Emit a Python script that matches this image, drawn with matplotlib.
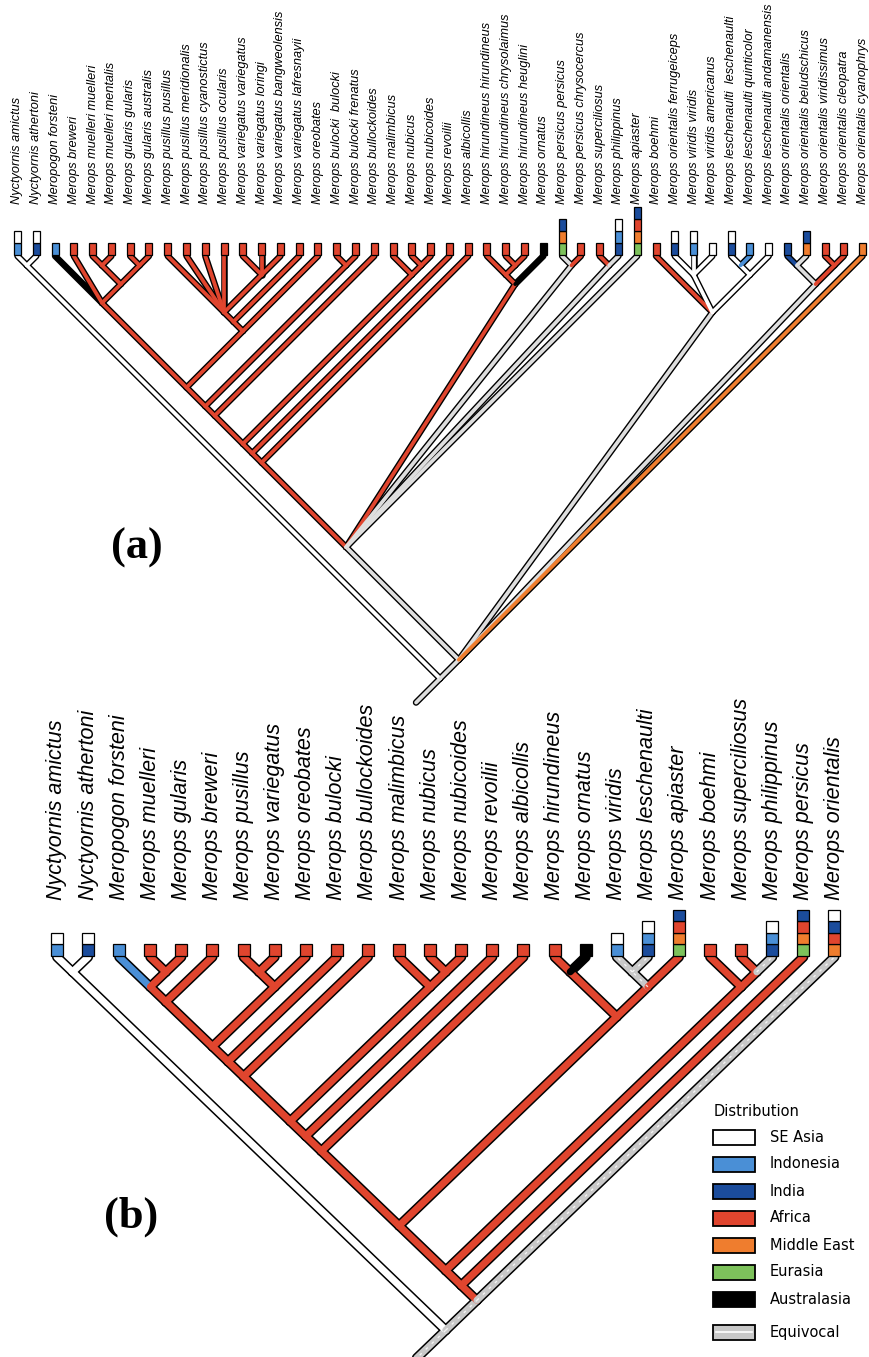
import matplotlib
matplotlib.use("Agg")
import matplotlib.pyplot as plt
from matplotlib.patches import Rectangle

# ---------------- data ----------------
region_codes = ["W", "I", "N", "A", "M", "E", "K", "Q"]
region_names = ["SE Asia", "Indonesia", "India", "Africa", "Middle East",
                "Eurasia", "Australasia", "Equivocal"]
region_colors = ["#ffffff", "#4a8fd6", "#1b4c9c", "#e0452e", "#ef7d2e",
                 "#7dc25b", "#000000", "#c8c8c8"]

names_a = [
    "Nyctyornis amictus", "Nyctyornis athertoni", "Meropogon forsteni", "Merops breweri",
    "Merops muelleri muelleri", "Merops muelleri mentalis", "Merops gularis gularis",
    "Merops gularis australis", "Merops pusillus pusillus", "Merops pusillus meridionalis",
    "Merops pusillus cyanostictus", "Merops pusillus ocularis", "Merops variegatus variegatus",
    "Merops variegatus loringi", "Merops variegatus bangweolensis", "Merops variegatus lafresnayii",
    "Merops oreobates", "Merops bulocki  bulocki", "Merops bulocki frenatus", "Merops bullockoides",
    "Merops malimbicus", "Merops nubicus", "Merops nubicoides", "Merops revoilii",
    "Merops albicollis", "Merops hirundineus hirundineus", "Merops hirundineus chrysolaimus",
    "Merops hirundineus heuglini", "Merops ornatus", "Merops persicus persicus",
    "Merops persicus chrysocercus", "Merops superciliosus", "Merops philippinus",
    "Merops apiaster", "Merops boehmi", "Merops orientalis ferrugeiceps",
    "Merops viridis viridis", "Merops viridis americanus", "Merops leschenaulti  leschenaulti",
    "Merops leschenaulti quinticolor", "Merops leschenaulti andamanensis",
    "Merops orientalis orientalis", "Merops orientalis beludschicus",
    "Merops orientalis viridissimus", "Merops orientalis cleopatra", "Merops orientalis cyanophrys",
]
# tip states, listed top to bottom
boxes_a = ["WI", "WN", "I"] + ["A"] * 25 + ["K", "NME", "A", "A", "WIN", "NAME", "A",
           "WN", "WI", "W", "WN", "I", "W", "N", "NM", "A", "A", "M"]

# topology (tip number + branch state letter)
a_x1 = "(3K,4A,((5A,6A)A,(7A,8A)A)A)A"
a_x3 = "(((9A,10A,11A,12A,(13A,14A,15A)A)A,16A)A,17A)A"
a_red = f"(((((({a_x1},{a_x3})A,(18A,19A)A)A,20A)A,(21A,(22A,23A)A)A)A,24A)A,25A)A"
a_hiru = "((26A,(27A,28A)A)A,29K)A"
a_core = f"({a_red},{a_hiru},(30Q,31A)Q,(32A,33Q)Q,34Q)Q"
a_east = "(35A,(36W,37W,38W)W,((39W,40I)W,41W)W)Q"
a_orient = "((42N,43Q)Q,(44A,45A)A)Q"
tree_a = f"((1W,2W)W,({a_core},{a_east},{a_orient},46M)Q)Q"

names_b = [
    "Nyctyornis amictus", "Nyctyornis athertoni", "Meropogon forsteni", "Merops muelleri",
    "Merops gularis", "Merops breweri", "Merops pusillus", "Merops variegatus",
    "Merops oreobates", "Merops bulocki", "Merops bullockoides", "Merops malimbicus",
    "Merops nubicus", "Merops nubicoides", "Merops revoilii", "Merops albicollis",
    "Merops hirundineus", "Merops ornatus", "Merops viridis", "Merops leschenaulti",
    "Merops apiaster", "Merops boehmi", "Merops superciliosus", "Merops philippinus",
    "Merops persicus", "Merops orientalis",
]
boxes_b = ["WI", "WN", "I"] + ["A"] * 14 + ["K", "WI", "WIN", "NAME", "A", "A",
           "WIN", "NAME", "WNAM"]

b_3_6 = "((3I,(4A,5A)A)A,6A)A"
b_7_9 = "((7A,8A)A,9A)A"
b_3_11 = f"((({b_3_6},{b_7_9})A,10A)A,11A)A"
b_3_16 = f"((({b_3_11},(12A,(13A,14A)A)A)A,15A)A,16A)A"
b_17_21 = "((17A,18K)A,((19Q,20Q)Q,21A)A)A"
b_22_24 = "(22A,(23A,24Q)A)A"
tree_b = f"((1W,2W)W,(((({b_3_16},{b_17_21})A,{b_22_24})A,25A)A,26Q)Q)Q"

COL = dict(zip(region_codes, region_colors))


# ---------------- tree helpers ----------------
def parse(s):
    s = s.replace(" ", "")
    pos = 0

    def node():
        nonlocal pos
        if s[pos] == "(":
            pos += 1
            kids = [node()]
            while s[pos] == ",":
                pos += 1
                kids.append(node())
            assert s[pos] == ")"
            pos += 1
            c = s[pos]
            pos += 1
            return {"kids": kids, "c": c}
        j = pos
        while s[pos].isdigit():
            pos += 1
        idx = int(s[j:pos]) - 1
        c = s[pos]
        pos += 1
        return {"leaf": idx, "c": c}

    return node()


def layout(n, xs, y0, r):
    if "leaf" in n:
        n["x"] = n["lo"] = n["hi"] = xs[n["leaf"]]
        n["y"] = y0
        return
    for k in n["kids"]:
        layout(k, xs, y0, r)
    n["lo"] = min(k["lo"] for k in n["kids"])
    n["hi"] = max(k["hi"] for k in n["kids"])
    n["x"] = (n["lo"] + n["hi"]) / 2
    n["y"] = y0 + r * (n["hi"] - n["lo"]) / 2


def collect(n, segs):
    for k in n.get("kids", []):
        segs.append(((n["x"], n["y"]), (k["x"], k["y"]), k["c"]))
        collect(k, segs)


fig = plt.figure(figsize=(8.7, 13.57), dpi=100)
ax = fig.add_axes([0, 0, 1, 1])
ax.set_xlim(0, 870)
ax.set_ylim(1357, 0)
ax.axis("off")


def draw_panel(tree, names, boxes, x0, dx, tip_y, r, lw_out, lw_in, stub,
               box_w, cell_h, label_y, fsize, fam, qcol, hatch):
    root = parse(tree)
    xs = [x0 + dx * i for i in range(len(names))]
    layout(root, xs, tip_y, r)
    segs = []
    collect(root, segs)
    rx, ry = root["x"], root["y"]
    segs.insert(0, ((rx, ry), (rx - stub, ry + stub * r), root["c"]))
    for p, q, c in segs:
        ax.plot([p[0], q[0]], [p[1], q[1]], color="black", lw=lw_out,
                solid_capstyle="round", zorder=2)
    for p, q, c in segs:
        col = qcol if c == "Q" else COL[c]
        ax.plot([p[0], q[0]], [p[1], q[1]], color=col, lw=lw_in,
                solid_capstyle="round", zorder=3)
        if c == "Q" and hatch:
            ax.plot([p[0], q[0]], [p[1], q[1]], color="white", lw=1.0,
                    dashes=(2, 4), zorder=4, alpha=0.8)
    for i, s in enumerate(boxes):
        for k, ch in enumerate(reversed(s)):
            ax.add_patch(Rectangle((xs[i] - box_w / 2, tip_y - 1.5 - cell_h * (k + 1)),
                                   box_w, cell_h, facecolor=COL[ch], edgecolor="black",
                                   lw=0.9, zorder=5))
    for i, nm in enumerate(names):
        ax.text(xs[i], label_y, nm, rotation=90, ha="center", va="bottom",
                fontsize=fsize, style="italic", family=fam, zorder=6)


draw_panel(tree_a, names_a, boxes_a, x0=17.5, dx=18.78, tip_y=256, r=1.0,
           lw_out=4.7, lw_in=2.7, stub=24, box_w=7, cell_h=12, label_y=204,
           fsize=9.2, fam=["Liberation Sans Narrow", "Liberation Sans", "DejaVu Sans"],
           qcol="#dedede", hatch=False)

draw_panel(tree_b, names_b, boxes_b, x0=57, dx=31.1, tip_y=957, r=0.96,
           lw_out=7.2, lw_in=5.0, stub=40, box_w=12, cell_h=11.5, label_y=900,
           fsize=15.5, fam=["Liberation Sans", "DejaVu Sans"],
           qcol="#c8c8c8", hatch=True)

ax.text(137, 548, "(a)", fontsize=32, fontweight="bold", family="Liberation Serif",
        ha="center", va="center")
ax.text(131, 1217, "(b)", fontsize=32, fontweight="bold", family="Liberation Serif",
        ha="center", va="center")

# legend
ax.text(714, 1112, "Distribution", fontsize=10.5, ha="left", va="center",
        family="DejaVu Sans")
for j, (code, lab) in enumerate(zip(region_codes, region_names)):
    y = 1137 + 27 * j + (6 if code == "Q" else 0)
    ax.add_patch(Rectangle((713, y - 7.5), 42, 15, facecolor=COL[code],
                           edgecolor="black", lw=1.3, zorder=5))
    if code == "Q":
        ax.plot([716, 752], [y, y], color="white", lw=1.2, zorder=6)
    ax.text(770, y, lab, fontsize=10.5, ha="left", va="center", family="DejaVu Sans")

fig.savefig("out.png", dpi=100)
